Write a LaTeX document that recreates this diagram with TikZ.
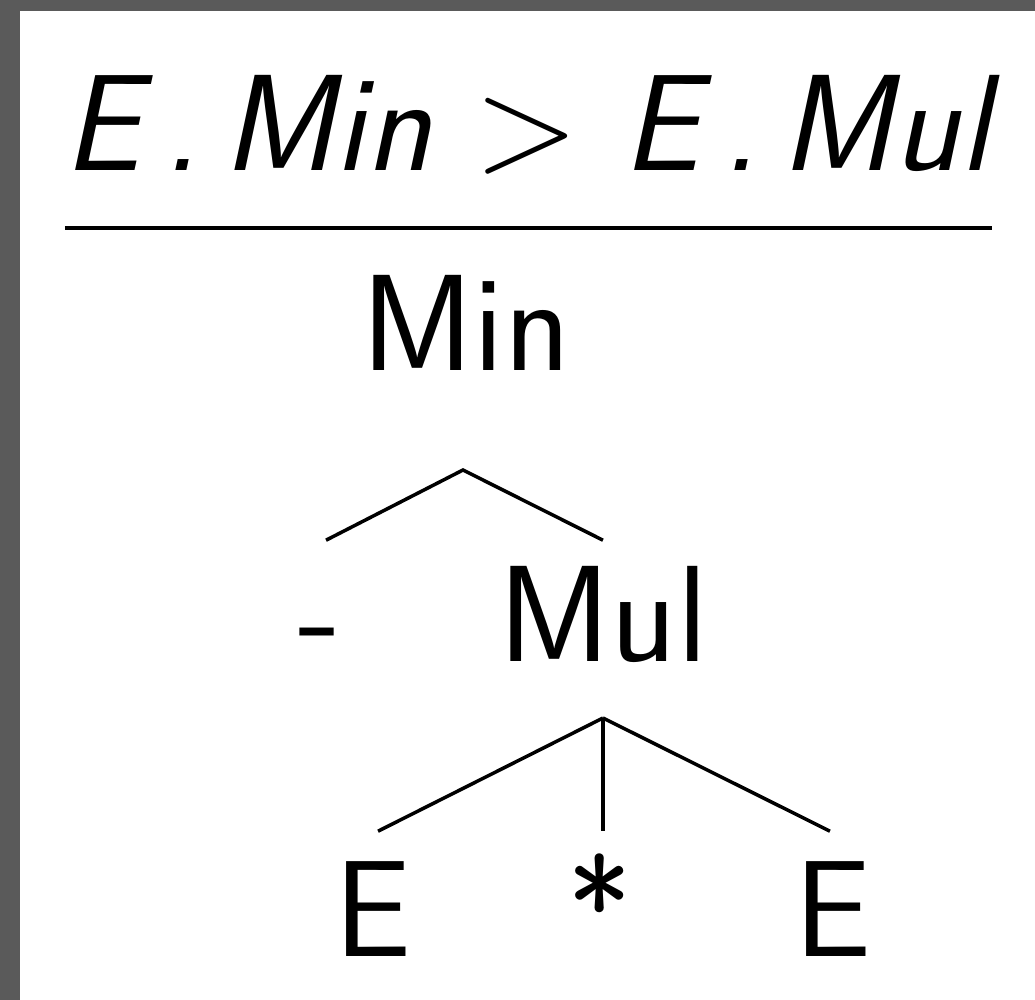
\documentclass[tikz,border=0pt]{standalone}
\usepackage{fontspec}
\definecolor{framegray}{HTML}{5A5A5A}
\newcommand{\vname}[1]{\textsf{\itshape #1}}
\tikzset{
  label/.style={font=\fontsize{39}{47}\sffamily, inner sep=0pt, text height=0.95cm, text depth=0pt, anchor=base},
  branch/.style={line width=1pt}
}
\begin{document}
\begin{tikzpicture}[x=0.01cm, y=-0.01cm]
    \fill[framegray] (0,0) rectangle (1035,1000);
    \fill[white] (20,11) rectangle (1035,1000);
    \useasboundingbox (0,0) rectangle (1035,1000);

    % judgement on top
    \node[label] (judge) at (532,170) {\vname{E\,.\,Min} > \vname{E\,.\,Mul}};
    \coordinate (ruleL) at (65,228);
    \coordinate (ruleR) at (992,228);
    \draw[line width=1.05pt] (ruleL) -- (ruleR);

    % the tree
    \node[label] (min) at (466,370) {Min};
    \node[label] (neg) at (320,662) {-};
    \node[label] (mul) at (603,662) {Mul};
    \node[label] (e1) at (373,957) {E};
    \node[label] (star) at (600,957) {*};
    \node[label] (e2) at (833,957) {E};

    \coordinate (minfork) at (463,470);
    \coordinate (mulfork) at (603,718);
    \draw[branch] ([xshift=0.06cm, yshift=0.26cm]neg.north) -- (minfork) -- ([yshift=0.26cm]mul.north);
    \draw[branch] (mulfork) -- ([xshift=0.05cm, yshift=0.3cm]e1.north);
    \draw[branch] (mulfork) -- ([yshift=0.3cm]mul.north |- e1.north);
    \draw[branch] (mulfork) -- ([xshift=-0.03cm, yshift=0.3cm]e2.north);

\end{tikzpicture}
\end{document}
